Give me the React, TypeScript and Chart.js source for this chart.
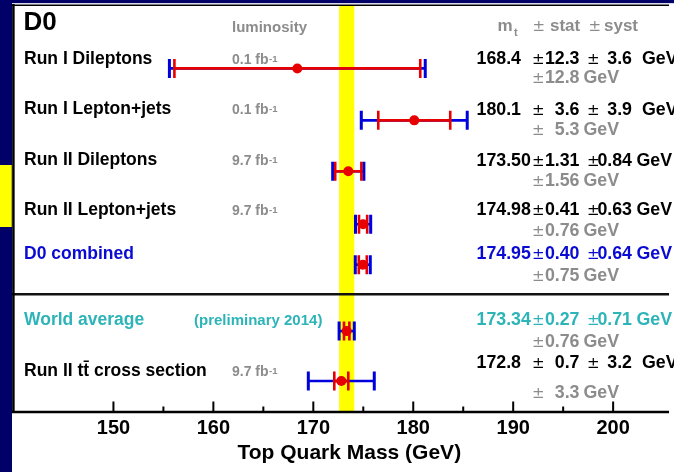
import { useEffect, useRef } from "react";
import { Chart, registerables } from "chart.js";

Chart.register(...registerables);

// Top quark mass measurements (GeV)
const LABELS = [
  "Run I Dileptons",
  "Run I Lepton+jets",
  "Run II Dileptons",
  "Run II Lepton+jets",
  "D0 combined",
  "World average",
  "Run II tt\u0304 cross section",
];
const LUMI = ["0.1", "0.1", "9.7", "9.7", "", "", "9.7"];
const MASS = [168.4, 180.1, 173.5, 174.98, 174.95, 173.34, 172.8];
const STAT = [12.3, 3.6, 1.31, 0.41, 0.4, 0.27, 0.7];
const SYST = [3.6, 3.9, 0.84, 0.63, 0.64, 0.71, 3.2];
const TOTAL = [12.8, 5.3, 1.56, 0.76, 0.75, 0.76, 3.3];
const DECIMALS = [1, 1, 2, 2, 2, 2, 1];
const WORLD_AVG_INDEX = 5;
const COMBINED_INDEX = 4;

// Axis ticks
const MAJOR_TICKS = [150, 160, 170, 180, 190, 200];
const MINOR_TICKS = [155, 165, 175, 185, 195];
const AXIS_TITLE = "Top Quark Mass (GeV)";

// Layout: row positions on the vertical scale and text baseline offsets (px)
const ROW_POS = [1, 2.04, 3.06, 4.12, 4.93, 6.26, 7.26];
const SEPARATOR_POS = 5.52;
const LABEL_DY = [-4, -6, -6, -9, -6, -6, -5];
const VALUE_DY = [-4.5, -5, -5, -9, -6, -6, -13];
const TOTAL_DY = [15, 15, 15, 12, 16, 15.7, 16.7];

const NAVY = "#000068";
const RED = "#e60000";
const BLUE = "#0000dd";
const GREY = "#8c8c8c";
const TEAL = "#2db4b9";
const DARKBLUE = "#0a0ad2";
const FONT = '"Liberation Sans", Arial, Helvetica, sans-serif';
const PM_FONT = '15px "DejaVu Sans", sans-serif';

function rowColor(i: number) {
  if (i === COMBINED_INDEX) return DARKBLUE;
  if (i === WORLD_AVG_INDEX) return TEAL;
  return "#000";
}

const d0Plugin = {
  id: "d0Plugin",
  beforeDraw(chart: any) {
    const { ctx, width, height } = chart;
    ctx.save();
    ctx.fillStyle = NAVY;
    ctx.fillRect(0, 0, width, height);
    ctx.fillStyle = "#ffff00";
    ctx.fillRect(0, 165, 11.7, 62);
    ctx.fillStyle = "#d8d8e8";
    ctx.fillRect(12, 3, width - 12, 1.2);
    ctx.fillStyle = "#fff";
    ctx.fillRect(12, 4, width - 12, height - 4);
    ctx.restore();
  },
  beforeDatasetsDraw(chart: any) {
    const { ctx, chartArea } = chart;
    const xs = chart.scales.x;
    const ys = chart.scales.y;
    ctx.save();
    // world average band
    const wa = MASS[WORLD_AVG_INDEX];
    const wt = TOTAL[WORLD_AVG_INDEX];
    const bx0 = xs.getPixelForValue(wa - wt);
    const bx1 = xs.getPixelForValue(wa + wt);
    ctx.fillStyle = "#ffff00";
    ctx.fillRect(bx0, chartArea.top, bx1 - bx0, chartArea.bottom - chartArea.top);

    // separator between D0 results and references
    const sy = ys.getPixelForValue(SEPARATOR_POS);
    ctx.strokeStyle = "#111";
    ctx.lineWidth = 2.5;
    ctx.beginPath();
    ctx.moveTo(12, sy);
    ctx.lineTo(chartArea.right, sy);
    ctx.stroke();

    // error bars: blue = total, red = statistical
    const capH = 9.5;
    MASS.forEach((m, i) => {
      const y = ys.getPixelForValue(ROW_POS[i]);
      const tl = xs.getPixelForValue(m - TOTAL[i]);
      const tr = xs.getPixelForValue(m + TOTAL[i]);
      const sl = xs.getPixelForValue(m - STAT[i]);
      const sr = xs.getPixelForValue(m + STAT[i]);
      ctx.lineCap = "butt";
      ctx.strokeStyle = BLUE;
      ctx.lineWidth = 2.6;
      ctx.beginPath();
      ctx.moveTo(tl, y);
      ctx.lineTo(tr, y);
      ctx.stroke();
      ctx.lineWidth = 3;
      ctx.beginPath();
      ctx.moveTo(tl, y - capH);
      ctx.lineTo(tl, y + capH);
      ctx.moveTo(tr, y - capH);
      ctx.lineTo(tr, y + capH);
      ctx.stroke();
      ctx.strokeStyle = RED;
      ctx.lineWidth = 2.6;
      ctx.beginPath();
      ctx.moveTo(sl, y);
      ctx.lineTo(sr, y);
      ctx.stroke();
      ctx.beginPath();
      ctx.moveTo(sl, y - capH);
      ctx.lineTo(sl, y + capH);
      ctx.moveTo(sr, y - capH);
      ctx.lineTo(sr, y + capH);
      ctx.stroke();
    });
    ctx.restore();
  },
  afterDatasetsDraw(chart: any) {
    const { ctx, chartArea } = chart;
    const xs = chart.scales.x;
    const ys = chart.scales.y;
    ctx.save();

    // frame
    ctx.strokeStyle = "#000";
    ctx.lineWidth = 2.5;
    ctx.beginPath();
    ctx.moveTo(13.4, chartArea.top - 1);
    ctx.lineTo(13.4, chartArea.bottom + 1);
    ctx.stroke();
    ctx.lineWidth = 1.5;
    ctx.beginPath();
    ctx.moveTo(12, chartArea.top + 0.2);
    ctx.lineTo(chartArea.right, chartArea.top + 0.2);
    ctx.stroke();
    const ay = chartArea.bottom + 0.5;
    ctx.lineWidth = 2.5;
    ctx.beginPath();
    ctx.moveTo(12, ay);
    ctx.lineTo(chartArea.right, ay);
    ctx.stroke();

    // inward ticks
    ctx.lineWidth = 2;
    ctx.beginPath();
    MAJOR_TICKS.forEach((t) => {
      const x = xs.getPixelForValue(t);
      ctx.moveTo(x, ay);
      ctx.lineTo(x, ay - 10.5);
    });
    MINOR_TICKS.forEach((t) => {
      const x = xs.getPixelForValue(t);
      ctx.moveTo(x, ay);
      ctx.lineTo(x, ay - 5.5);
    });
    ctx.stroke();

    ctx.fillStyle = "#000";
    ctx.textAlign = "center";
    ctx.textBaseline = "alphabetic";
    ctx.font = `bold 20px ${FONT}`;
    MAJOR_TICKS.forEach((t) => {
      ctx.fillText(String(t), xs.getPixelForValue(t), 433.5);
    });
    ctx.font = `bold 21px ${FONT}`;
    ctx.fillText(AXIS_TITLE, xs.getPixelForValue(173.6), 459);

    // header
    ctx.textAlign = "left";
    ctx.font = `bold 26px ${FONT}`;
    ctx.fillText("D0", 23.5, 29.5);
    ctx.fillStyle = GREY;
    ctx.font = `bold 15px ${FONT}`;
    ctx.fillText("luminosity", 232, 31.5);
    ctx.font = `bold 17px ${FONT}`;
    ctx.fillText("m", 497.5, 31);
    ctx.font = `bold 11px ${FONT}`;
    ctx.fillText("t", 514, 35.5);
    ctx.font = PM_FONT;
    ctx.fillText("\u00b1", 532.5, 31);
    ctx.fillText("\u00b1", 588.5, 31);
    ctx.font = `bold 17px ${FONT}`;
    ctx.fillText("stat", 550, 31);
    ctx.fillText("syst", 604, 31);

    LABELS.forEach((label, i) => {
      const y = ys.getPixelForValue(ROW_POS[i]);
      const color = rowColor(i);
      const ly = y + LABEL_DY[i];

      // measurement name
      ctx.textAlign = "left";
      ctx.fillStyle = color;
      ctx.font = `bold 17.5px ${FONT}`;
      ctx.fillText(label, 24, ly);

      // integrated luminosity
      if (LUMI[i]) {
        ctx.fillStyle = GREY;
        ctx.font = `bold 14px ${FONT}`;
        const main = `${LUMI[i]} fb`;
        ctx.fillText(main, 232, ly);
        const w = ctx.measureText(main).width;
        ctx.font = `bold 9.5px ${FONT}`;
        ctx.fillText("-1", 232 + w + 0.5, ly - 2.5);
      }
      if (i === WORLD_AVG_INDEX) {
        ctx.fillStyle = TEAL;
        ctx.font = `bold 15px ${FONT}`;
        ctx.fillText("(preliminary 2014)", 194, ly);
      }

      // m_t ± stat ± syst
      const d = DECIMALS[i];
      const vy = y + VALUE_DY[i];
      ctx.fillStyle = color;
      ctx.font = `bold 17.8px ${FONT}`;
      ctx.fillText(MASS[i].toFixed(d), 476.5, vy);
      ctx.textAlign = "right";
      ctx.fillText(STAT[i].toFixed(d), 579.5, vy);
      ctx.fillText(SYST[i].toFixed(d), 632, vy);
      ctx.textAlign = "left";
      ctx.fillText("GeV", 632 + (d === 1 ? 10 : 4.5), vy);
      ctx.font = PM_FONT;
      ctx.fillText("\u00b1", 532, vy);
      ctx.fillText("\u00b1", 587, vy);

      // total uncertainty
      const ty = y + TOTAL_DY[i];
      ctx.fillStyle = GREY;
      ctx.fillText("\u00b1", 532, ty);
      ctx.font = `bold 17.8px ${FONT}`;
      ctx.textAlign = "right";
      ctx.fillText(TOTAL[i].toFixed(d), 579.5, ty);
      ctx.textAlign = "left";
      ctx.fillText("GeV", 583.5, ty);
    });

    ctx.restore();
  },
};

export default function App() {
  const ref = useRef<HTMLCanvasElement>(null);

  useEffect(() => {
    document.body.style.margin = "0";
    const canvas = ref.current;
    if (!canvas) return;
    const chart = new Chart(canvas, {
      type: "scatter",
      data: {
        datasets: [
          {
            label: "m_t",
            data: MASS.map((m, i) => ({ x: m, y: ROW_POS[i] })),
            pointRadius: 5,
            pointBackgroundColor: RED,
            pointBorderColor: RED,
            pointBorderWidth: 0,
            showLine: false,
          },
        ],
      },
      options: {
        responsive: false,
        animation: false,
        events: [],
        layout: { padding: { left: 13.5, top: 4.5, right: 0, bottom: 60.5 } },
        scales: {
          x: { type: "linear", min: 140, max: 205.59, display: false },
          y: { type: "linear", min: -0.27, max: 7.87, reverse: true, display: false },
        },
        plugins: {
          legend: { display: false },
          tooltip: { enabled: false },
        },
      },
      plugins: [d0Plugin],
    });
    return () => chart.destroy();
  }, []);

  return (
    <canvas
      ref={ref}
      width={674}
      height={472}
      style={{ display: "block", width: 674, height: 472 }}
    />
  );
}
